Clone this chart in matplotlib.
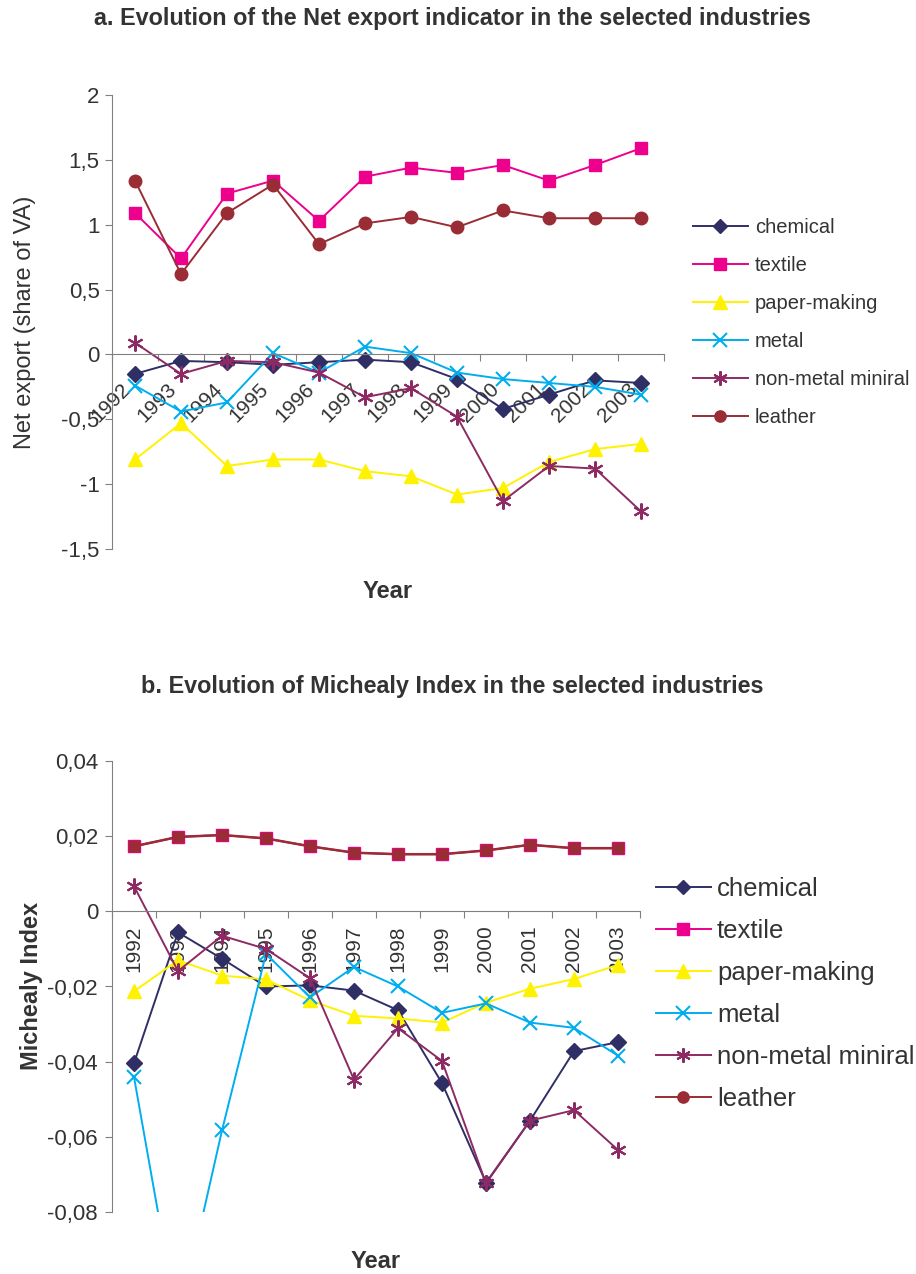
import numpy as np
import matplotlib
matplotlib.use("Agg")
import matplotlib.pyplot as plt
from matplotlib.lines import Line2D
from matplotlib.transforms import ScaledTranslation

plt.rcParams['font.family'] = ['Liberation Sans', 'DejaVu Sans']

# Data
years = ["1992", "1993", "1994", "1995", "1996", "1997",
         "1998", "1999", "2000", "2001", "2002", "2003"]
industries = ["chemical", "textile", "paper-making", "metal",
              "non-metal miniral", "leather"]

# a. Net export (share of VA)
chemical_a = [-0.15, -0.05, -0.06, -0.08, -0.06, -0.04, -0.06, -0.19, -0.42, -0.31, -0.20, -0.22]
textile_a = [1.09, 0.74, 1.24, 1.34, 1.03, 1.37, 1.44, 1.40, 1.46, 1.34, 1.46, 1.59]
paper_a = [-0.81, -0.53, -0.86, -0.81, -0.81, -0.90, -0.94, -1.08, -1.03, -0.83, -0.73, -0.69]
metal_a = [-0.24, -0.44, -0.37, 0.01, -0.14, 0.06, 0.01, -0.14, -0.19, -0.22, -0.25, -0.31]
nonmetal_a = [0.09, -0.15, -0.05, -0.06, -0.14, -0.33, -0.26, -0.48, -1.13, -0.86, -0.88, -1.21]
leather_a = [1.34, 0.62, 1.09, 1.31, 0.85, 1.01, 1.06, 0.98, 1.11, 1.05, 1.05, 1.05]

# b. Michealy index
chemical_b = [-0.0404, -0.0056, -0.0126, -0.0200, -0.0197, -0.0211, -0.0263, -0.0457, -0.0722, -0.0557, -0.0372, -0.0348]
textile_b = [0.0173, 0.0198, 0.0203, 0.0194, 0.0173, 0.0156, 0.0152, 0.0152, 0.0162, 0.0177, 0.0168, 0.0168]
paper_b = [-0.0213, -0.0130, -0.0171, -0.0181, -0.0237, -0.0278, -0.0285, -0.0296, -0.0243, -0.0206, -0.0180, -0.0143]
metal_b = [-0.0441, -0.1100, -0.0583, -0.0113, -0.0229, -0.0148, -0.0200, -0.0270, -0.0245, -0.0296, -0.0310, -0.0384]
nonmetal_b = [0.0067, -0.0159, -0.0065, -0.0100, -0.0178, -0.0448, -0.0311, -0.0398, -0.0724, -0.0557, -0.0529, -0.0635]
leather_b = [0.0173, 0.0198, 0.0203, 0.0194, 0.0173, 0.0156, 0.0152, 0.0152, 0.0162, 0.0177, 0.0168, 0.0168]

yticks_a = [-1.5, -1, -0.5, 0, 0.5, 1, 1.5, 2]
ylabels_a = ["-1,5", "-1", "-0,5", "0", "0,5", "1", "1,5", "2"]
yticks_b = [-0.08, -0.06, -0.04, -0.02, 0, 0.02, 0.04]
ylabels_b = ["-0,08", "-0,06", "-0,04", "-0,02", "0", "0,02", "0,04"]

colors = ["#2f2f66", "#ec008c", "#fff200", "#00aeef", "#8e2a63", "#992c34"]
markers = ["D", "s", "^", "x", (6, 2, 0), "o"]
msizes = [8, 9, 10.5, 10.5, 11.5, 9]

TEXT = "#333333"
AXC = "#808080"


def mew(m):
    return 1.5 if m in ("x", (6, 2, 0)) else 1


def style_axes(ax, fig, yticks, ylabels, rot, ypad):
    n = len(years)
    x = np.arange(n)
    ax.set_xlim(-0.5, n - 0.5)
    for s in ["top", "right"]:
        ax.spines[s].set_visible(False)
    ax.spines["left"].set_color(AXC)
    ax.spines["bottom"].set_color(AXC)
    ax.spines["bottom"].set_position(("data", 0))
    ax.set_yticks(yticks)
    ax.set_yticklabels(ylabels)
    ax.tick_params(axis="y", colors=AXC, labelcolor=TEXT, labelsize=16,
                   length=5, pad=ypad)
    # tick marks between categories, labels at category centres
    ax.set_xticks(np.arange(n + 1) - 0.5)
    ax.set_xticklabels([])
    ax.tick_params(axis="x", which="major", colors=AXC, length=5, direction="out")
    ax.set_xticks(x, minor=True)
    ax.tick_params(axis="x", which="minor", length=0, labelsize=15,
                   labelcolor=TEXT)
    if rot == 45:
        ax.set_xticklabels(years, minor=True, rotation=45, ha="right",
                           va="top", rotation_mode="anchor")
        ax.tick_params(axis="x", which="minor", pad=0)
        off = ScaledTranslation(-14 / 100, -25 / 100, fig.dpi_scale_trans)
        for t in ax.xaxis.get_minor_ticks():
            t.label1.set_transform(t.label1.get_transform() + off)
    else:
        ax.set_xticklabels(years, minor=True, rotation=90, ha="center",
                           va="top")
        ax.tick_params(axis="x", which="minor", pad=10)


def legend_handles():
    return [Line2D([], [], color=c, marker=m, markersize=ms * 0.9, lw=1.4,
                   markeredgewidth=mew(m))
            for c, m, ms in zip(colors, markers, msizes)]


fig = plt.figure(figsize=(9.16, 12.74), dpi=100)

# ---- chart a ----
ax1 = fig.add_axes([112 / 916, 1 - 549 / 1274, 552 / 916, 454 / 1274])
x = np.arange(len(years))
series_a = [chemical_a, textile_a, paper_a, metal_a, nonmetal_a, leather_a]
for vals, c, m, ms in zip(series_a, colors, markers, msizes):
    ax1.plot(x, vals, color=c, marker=m, markersize=ms, lw=1.4,
             markeredgewidth=mew(m))
ax1.set_ylim(-1.5, 2)
style_axes(ax1, fig, yticks_a, ylabels_a, 45, 4)
fig.text(25 / 916, 1 - 322 / 1274, "Net export (share of VA)", rotation=90,
         ha="center", va="center", fontsize=17, color=TEXT)
fig.text(388 / 916, 1 - 591 / 1274, "Year", ha="center", va="center",
         fontsize=17, fontweight="bold", color=TEXT)
fig.text(452 / 916, 1 - 18 / 1274,
         "a. Evolution of the Net export indicator in the selected industries",
         ha="center", va="center", fontsize=16.8, fontweight="bold", color=TEXT)
fig.legend(legend_handles(), industries, loc="upper left",
           bbox_to_anchor=(693 / 916, 1 - 218 / 1274), frameon=False,
           fontsize=14.5, handlelength=2.73, handletextpad=0.35,
           labelspacing=0.94, borderpad=0, borderaxespad=0, labelcolor=TEXT)

# ---- chart b ----
ax2 = fig.add_axes([112 / 916, 1 - 1212 / 1274, 528 / 916, 451 / 1274])
series_b = [chemical_b, textile_b, paper_b, metal_b, nonmetal_b]
for vals, c, m, ms in zip(series_b, colors[:5], markers[:5], msizes[:5]):
    ax2.plot(x, vals, color=c, marker=m, markersize=ms, lw=1.4,
             markeredgewidth=mew(m))
# leather overlaps textile in this panel
ax2.plot(x, leather_b, color=colors[5], marker="s", markersize=7.5, lw=1.8,
         markeredgecolor=colors[5])
ax2.set_ylim(-0.08, 0.04)
style_axes(ax2, fig, yticks_b, ylabels_b, 90, 5)
fig.text(32 / 916, 1 - 986 / 1274, "Michealy Index", rotation=90,
         ha="center", va="center", fontsize=17, fontweight="bold", color=TEXT)
fig.text(376 / 916, 1 - 1262 / 1274, "Year", ha="center", va="center",
         fontsize=17, fontweight="bold", color=TEXT)
fig.text(452 / 916, 1 - 686 / 1274,
         "b. Evolution of Michealy Index in the selected industries",
         ha="center", va="center", fontsize=16.8, fontweight="bold", color=TEXT)
fig.legend(legend_handles(), industries, loc="upper left",
           bbox_to_anchor=(656 / 916, 1 - 877 / 1274), frameon=False,
           fontsize=18.5, handlelength=2.14, handletextpad=0.23,
           labelspacing=0.7, borderpad=0, borderaxespad=0, labelcolor=TEXT)

fig.savefig("out.png", dpi=100)
